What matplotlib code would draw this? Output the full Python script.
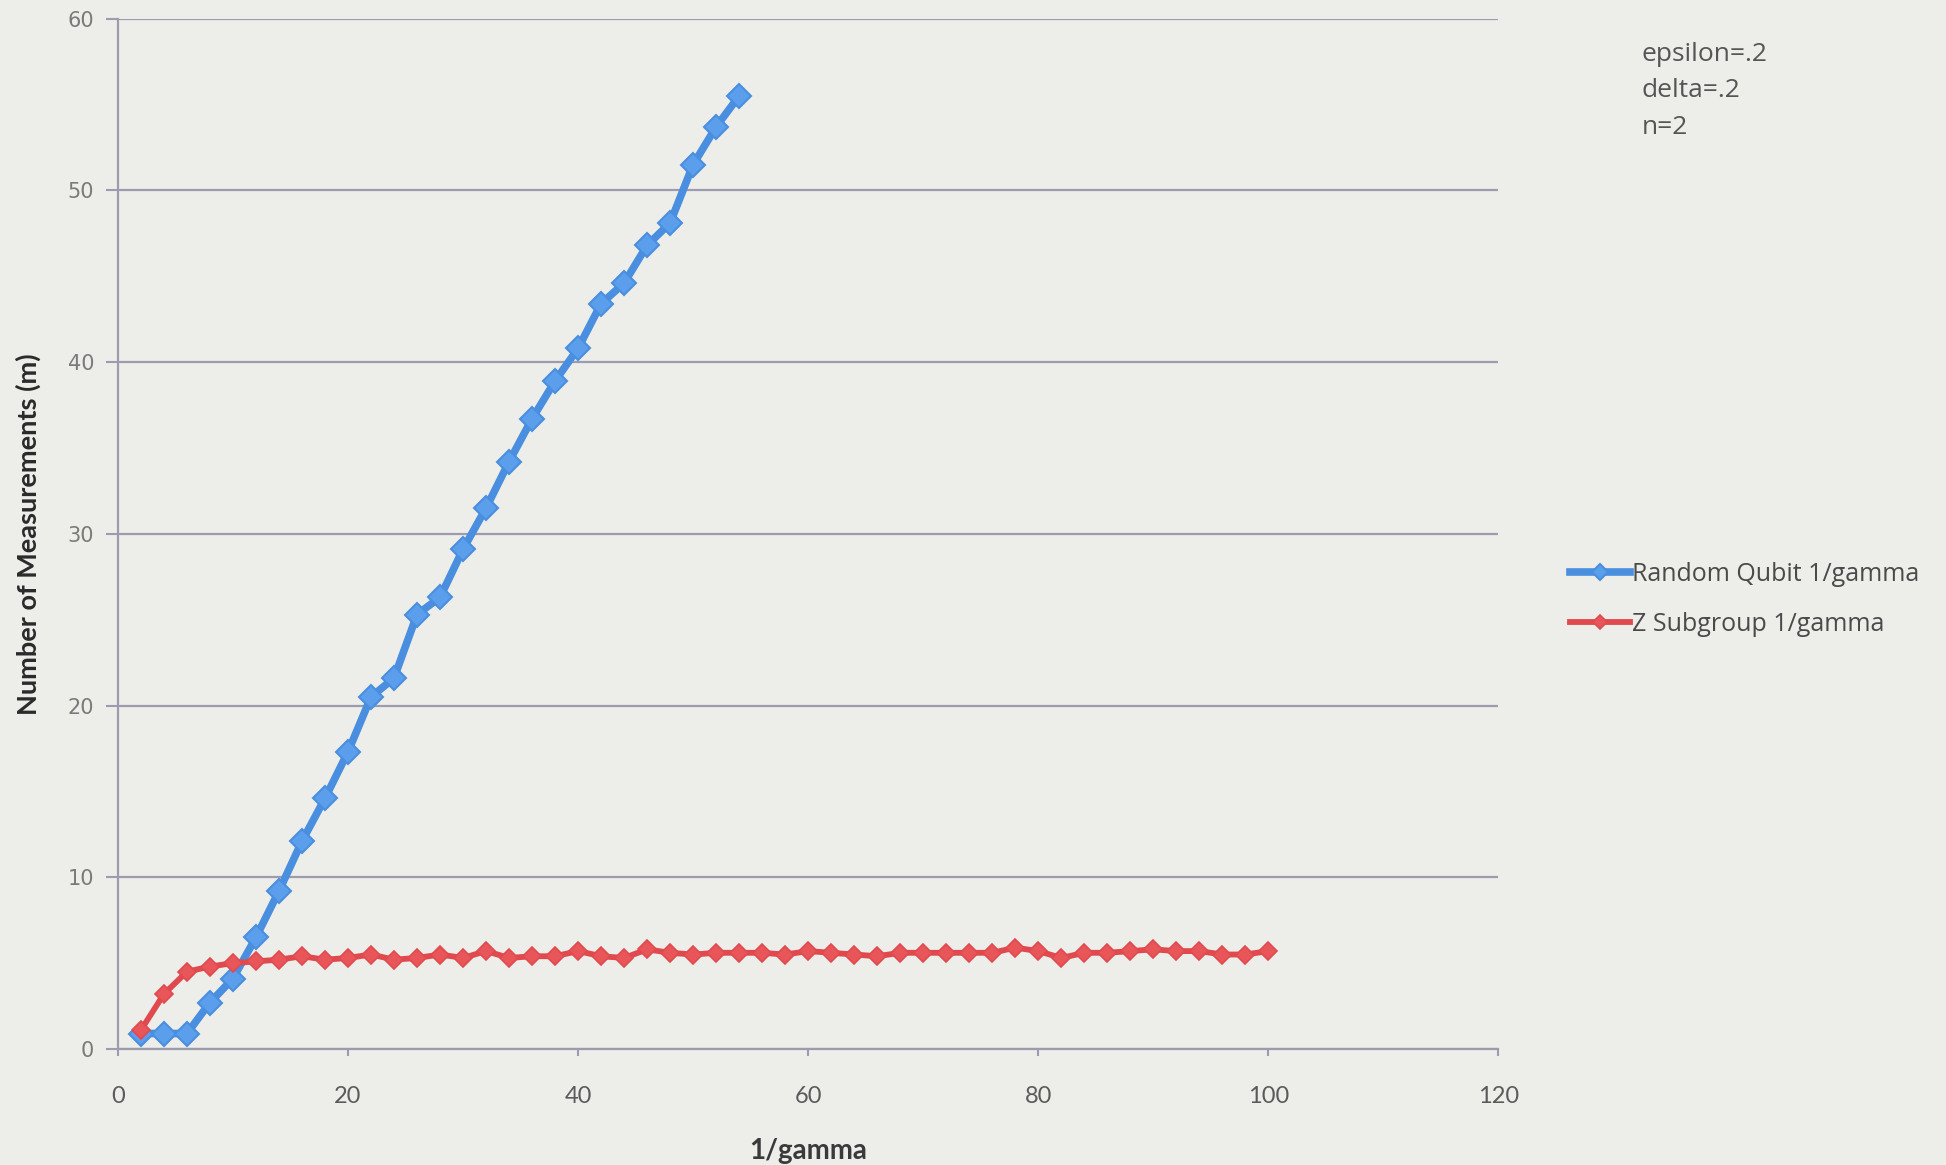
import matplotlib.pyplot as plt

# data
blue_x = [2, 4, 6, 8, 10, 12, 14, 16, 18, 20, 22, 24, 26, 28, 30, 32, 34, 36,
          38, 40, 42, 44, 46, 48, 50, 52, 54]
blue_y = [0.9, 0.9, 0.9, 2.7, 4.1, 6.5, 9.2, 12.1, 14.6, 17.3, 20.5, 21.6,
          25.3, 26.3, 29.1, 31.5, 34.2, 36.7, 38.9, 40.8, 43.4, 44.6, 46.8,
          48.1, 51.5, 53.7, 55.5]

red_x = list(range(2, 101, 2))
red_y = [1.1, 3.2, 4.5, 4.8, 5.0, 5.1, 5.2, 5.4, 5.2, 5.3,
         5.5, 5.2, 5.3, 5.5, 5.3, 5.7, 5.3, 5.4, 5.4, 5.7,
         5.4, 5.3, 5.8, 5.6, 5.5, 5.6, 5.6, 5.6, 5.5, 5.7,
         5.6, 5.5, 5.4, 5.6, 5.6, 5.6, 5.6, 5.6, 5.9, 5.7,
         5.3, 5.6, 5.6, 5.7, 5.8, 5.7, 5.7, 5.5, 5.5, 5.7]

labels = ["Random Qubit 1/gamma", "Z Subgroup 1/gamma"]
notes = "epsilon=.2\ndelta=.2\nn=2"

bg = "#edeeea"
grid_col = "#9c9cae"

fig = plt.figure(figsize=(19.46, 11.65), dpi=100, facecolor=bg)
ax = fig.add_axes([0.0606, 0.0996, 0.7094, 0.8844], facecolor=bg)

ax.plot(blue_x, blue_y, color="#4a8ee0", lw=5.5, marker="D", ms=12,
        mfc="#5b9fec", mec="#4a8ee0", mew=1.5, label=labels[0], zorder=3)
ax.plot(red_x, red_y, color="#e04a4f", lw=4.2, marker="D", ms=9.5,
        mfc="#e8565a", mec="#e04a4f", mew=1.2, label=labels[1], zorder=4)

ax.set_xlim(0, 120)
ax.set_ylim(0, 60)
ax.set_xticks(range(0, 121, 20))
ax.set_yticks(range(0, 61, 10))
ax.grid(axis="y", color=grid_col, lw=1.6)
ax.set_axisbelow(True)

for s in ["top", "right"]:
    ax.spines[s].set_visible(False)
for s in ["left", "bottom"]:
    ax.spines[s].set_color(grid_col)
    ax.spines[s].set_linewidth(1.6)

ax.tick_params(axis="y", colors=grid_col, length=9, width=1.5, pad=8,
               labelsize=15, labelcolor="#7a7a7a")
ax.tick_params(axis="x", colors=grid_col, length=5, width=1.5, pad=22,
               labelsize=17, labelcolor="#5a5a5a")
for t in ax.get_xticklabels():
    t.set_fontfamily("Lato")

ax.set_ylabel("Number of Measurements (m)", fontfamily="Lato",
              fontweight="bold", fontsize=19.5, color="#2a2a2a", labelpad=19)
ax.set_xlabel("1/gamma", fontfamily="Lato", fontweight="bold", fontsize=20,
              color="#3a3a3a", labelpad=22)

fig.text(0.8435, 0.964, notes, fontfamily="Open Sans", fontsize=19,
         color="#555555", va="top", linespacing=1.6)

leg = fig.legend(loc="upper left", bbox_to_anchor=(0.795, 0.537),
                 frameon=False, prop={"family": "Open Sans", "size": 18},
                 handlelength=2.4, handletextpad=0.1, labelspacing=1.0,
                 markerscale=0.7)
for t in leg.get_texts():
    t.set_color("#4a4a4a")

plt.savefig("out.png", dpi=100, facecolor=bg)
